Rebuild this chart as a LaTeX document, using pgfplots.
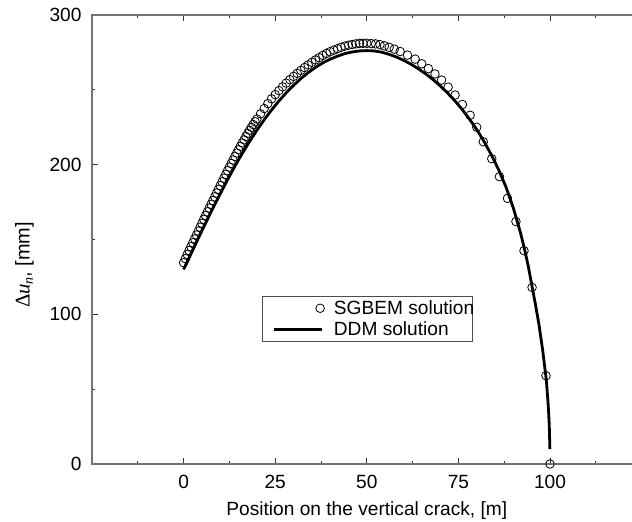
\documentclass[border=0pt]{standalone}
\usepackage{pgfplots}
\pgfplotsset{compat=1.18}
\usepackage{fontspec}
\setmainfont{Liberation Sans}
\newfontfamily\lserif{Liberation Serif}
\pgfplotsset{
  legmark/.style={legend image code/.code={\path (-12bp,0bp) (59bp,0bp); \draw[##1] plot coordinates {(46.6bp,0bp)};}},
  legline/.style={legend image code/.code={\path (-12bp,0bp) (59bp,0bp); \draw[##1] plot coordinates {(0bp,0bp) (48.3bp,0bp)};}},
}
\begin{document}
\begin{tikzpicture}
\useasboundingbox (-92bp,-58bp) rectangle (540bp,464bp);
\begin{axis}[
  at={(0,0)}, anchor=south west,
  scale only axis, width=549.6bp, height=449bp,
  xmin=-25, xmax=125, ymin=0, ymax=300,
  xtick={0,25,50,75,100},
  minor xtick={-12.5,12.5,37.5,62.5,87.5,112.5},
  ytick={0,100,200,300},
  minor ytick={50,150,250},
  tick align=inside,
  major tick length=6bp, minor tick length=3bp,
  axis line style={black!55, line width=1.1bp},
  every tick/.style={black!80, line width=1bp},
  font=\fontsize{19.2}{22}\selectfont,
  /pgf/number format/assume math mode=true,
  xticklabel style={yshift=-8bp},
  yticklabel style={xshift=-7bp},
  xlabel={Position on the vertical crack, [m]},
  ylabel={{\lserif\fontsize{21}{24}\selectfont Δ\textit{u}\raisebox{-0.35ex}{\fontsize{14}{14}\selectfont\textit{n}}}\kern-0.5pt{\fontsize{20}{24}\selectfont, [mm]}},
  xlabel shift=6bp,
  every axis y label/.append style={at={(ticklabel cs:0.443,9bp)}},
  legend style={at={(rel axis cs:0.3088,0.2724)}, anchor=south west,
    draw=black!70, line width=0.8bp, inner xsep=-2bp, inner ysep=3bp,
    font=\fontsize{19.2}{22}\selectfont, row sep=4bp,
    nodes={inner xsep=0pt, inner ysep=1bp}},
  legend cell align=left,
]
\addplot[only marks, mark=o, mark size=4.3bp, mark options={line width=0.8bp, black}, legmark]
coordinates {
(0,134.5) (0.5,137.2) (1,140) (1.5,142.6) (2,145.2) (2.5,147.8) (3,150.4) (3.5,153)
(4,155.6) (4.5,158.2) (5,160.8) (5.5,163.4) (6,166) (6.5,168.5) (7,171) (7.5,173.5)
(8,176) (8.5,178.5) (9,181) (9.5,183.5) (10,186) (10.5,188.5) (11,191) (11.5,193.5)
(12,196) (12.5,198.4) (13,200.8) (13.5,203.1) (14,205.5) (14.5,207.8) (15,210)
(15.5,212.3) (16,214.5) (16.5,216.6) (17,218.8) (17.5,220.9) (18,223) (18.5,224.9)
(19,226.8) (19.5,228.7) (20,230.5)
(21,234) (22,237.5) (23,240.8) (24,244) (25,246.8) (26,249.5) (27,252) (28,254.5)
(29,256.8) (30,259) (31,261) (32,263) (33,264.9) (34,266.7) (35,268.4) (36,270)
(37,271.5) (38,273) (39,274.3) (40,275.5) (41,276.5) (42,277.5) (43,278.4) (44,279.2)
(45,279.8) (46,280.3) (47,280.7) (48,281) (49,281.1) (50,281.1)
(51.2,280.9) (52.4,280.7) (53.6,280.2) (54.8,279.4) (56.1,278.4) (57.5,277.2)
(59.1,275.6) (61.1,273.2) (63.2,270.5) (65,267.4) (66.8,264.2) (68.6,260.6)
(70.4,256.5) (72.2,251.8) (74.1,246.5) (76.1,240.2) (78.2,233) (80,225)
(81.8,215.3) (84.1,204) (86.2,192) (88.4,177.5) (90.7,162) (92.9,142.5)
(95.1,118) (98.9,59) (100,0)
};
\addlegendentry{SGBEM solution}
\addplot[black, line width=2.8bp, line join=round, legline]
coordinates {
(0,130) (2,140.5) (4,151) (6,161) (8,171) (10,180.5) (12,190) (14,199) (16,207.5)
(18,215.5) (20,223) (22,230) (24,236.5) (26,242.5) (28,248) (30,253) (32,257.5)
(34,261.5) (36,265) (38,268) (40,270.5) (42,272.5) (44,274.2) (46,275.3) (48,276)
(50,276.2) (52,276) (54,275.2) (56,273.8) (58,272) (60,269.8) (62,267.2) (64,264.2)
(66,260.8) (68,257) (70,252.7) (72,248) (74,242.8) (76,237) (78,230.5) (80,223.5)
(82,215.5) (84,206.5) (86,196.5) (88,185) (90,171) (92,154) (93,144) (94,133)
(95,120) (96,107) (97,93) (98,76) (98.5,66) (99,56) (99.5,40) (99.8,26) (99.97,10)
};
\addlegendentry{DDM solution}
\end{axis}
\end{tikzpicture}
\end{document}
